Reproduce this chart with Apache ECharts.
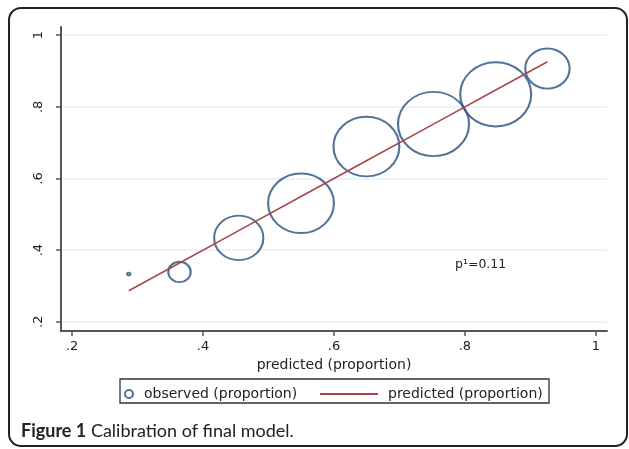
<!DOCTYPE html>
<html>
<head>
<meta charset="utf-8">
<script src="https://cdn.jsdelivr.net/npm/echarts@6/dist/echarts.min.js"></script>
<style>
  html, body { margin: 0; padding: 0; background: #fff; }
  #chart { width: 629px; height: 449px; }
</style>
</head>
<body>
<div id="chart"></div>
<script>
// predicted proportion per group (x), observed proportion (y), relative group weight
const predicted = [0.2865, 0.364, 0.4545, 0.5496, 0.6495, 0.752, 0.847, 0.926];
const observed  = [0.333, 0.339, 0.434, 0.5307, 0.689, 0.752, 0.835, 0.907];
const weights   = [0.2, 10, 48, 86, 86, 100, 100, 39];
const tickValues = [0.2, 0.4, 0.6, 0.8, 1];

const chart = echarts.init(document.getElementById('chart'));

const scatterData = predicted.map((p, i) => [p, observed[i], weights[i]]);
const lineData = predicted.map(p => [p, p]);

function tickLabel(v) {
  if (v === 1) return '1';
  return String(Math.round(v * 10) / 10).replace(/^0/, '');
}

const font = 'DejaVu Sans';
const axisFont = { fontFamily: font, fontSize: 13, color: '#222' };

chart.setOption({
  backgroundColor: '#fff',
  animation: false,
  grid: { left: 61, right: 22, top: 27, bottom: 118 },
  xAxis: {
    type: 'value',
    min: 0.183,
    max: 1.017,
    name: 'predicted (proportion)',
    nameLocation: 'middle',
    nameGap: 25,
    nameTextStyle: { fontFamily: font, fontSize: 14, color: '#222' },
    axisLine: { show: true, lineStyle: { color: '#555', width: 2 } },
    axisTick: { show: true, length: 5, customValues: tickValues, lineStyle: { color: '#555', width: 1.5 } },
    axisLabel: Object.assign({ margin: 9, customValues: tickValues, formatter: tickLabel }, axisFont),
    splitLine: { show: false }
  },
  yAxis: {
    type: 'value',
    min: 0.174,
    max: 1.023,
    axisLine: { show: true, lineStyle: { color: '#555', width: 2 } },
    axisTick: { show: true, length: 5, customValues: tickValues, lineStyle: { color: '#555', width: 1.5 } },
    axisLabel: Object.assign({ margin: 16, rotate: 90, customValues: tickValues, formatter: tickLabel }, axisFont),
    splitLine: { show: true, lineStyle: { color: '#e8eff4', width: 1.5 } }
  },
  legend: [
    {
      data: ['observed (proportion)'],
      left: 119,
      top: 382,
      itemWidth: 8,
      itemHeight: 8,
      textStyle: { fontFamily: font, fontSize: 14, color: '#222', padding: [0, 0, 0, 6] }
    },
    {
      data: [{ name: 'predicted (proportion)', icon: 'rect' }],
      left: 315,
      top: 382,
      itemWidth: 58,
      itemHeight: 2,
      textStyle: { fontFamily: font, fontSize: 14, color: '#222', padding: [0, 0, 0, 5] }
    }
  ],
  graphic: [
    {
      type: 'rect',
      shape: { x: 9, y: 8, width: 618, height: 438, r: 12 },
      style: { fill: 'none', stroke: '#222', lineWidth: 2 },
      silent: true
    },
    {
      type: 'rect',
      shape: { x: 120, y: 379, width: 429, height: 24 },
      style: { fill: 'none', stroke: '#333', lineWidth: 1.3 },
      silent: true
    },
    {
      type: 'text',
      left: 455,
      top: 258,
      style: { text: 'p¹=0.11', font: '12.5px "DejaVu Sans"', fill: '#222' }
    },
    {
      type: 'text',
      left: 21,
      top: 422,
      style: {
        text: '{b|Figure 1} Calibration of final model.',
        font: '18px Lato',
        fill: '#222',
        rich: { b: { font: 'bold 18px Lato', fill: '#222' } }
      }
    }
  ],
  series: [
    {
      name: 'observed (proportion)',
      type: 'scatter',
      data: scatterData,
      symbol: 'circle',
      symbolSize: function (val) {
        const w = Math.sqrt(val[2] / 100) * 71;
        return [w, w * 0.905];
      },
      itemStyle: { color: 'rgba(0,0,0,0)', borderColor: '#25507e', borderWidth: 2 },
      z: 2
    },
    {
      name: 'predicted (proportion)',
      type: 'line',
      data: lineData,
      symbol: 'none',
      lineStyle: { color: '#a8474a', width: 1.5 },
      itemStyle: { color: '#a8474a' },
      z: 3
    }
  ]
});
</script>
</body>
</html>
